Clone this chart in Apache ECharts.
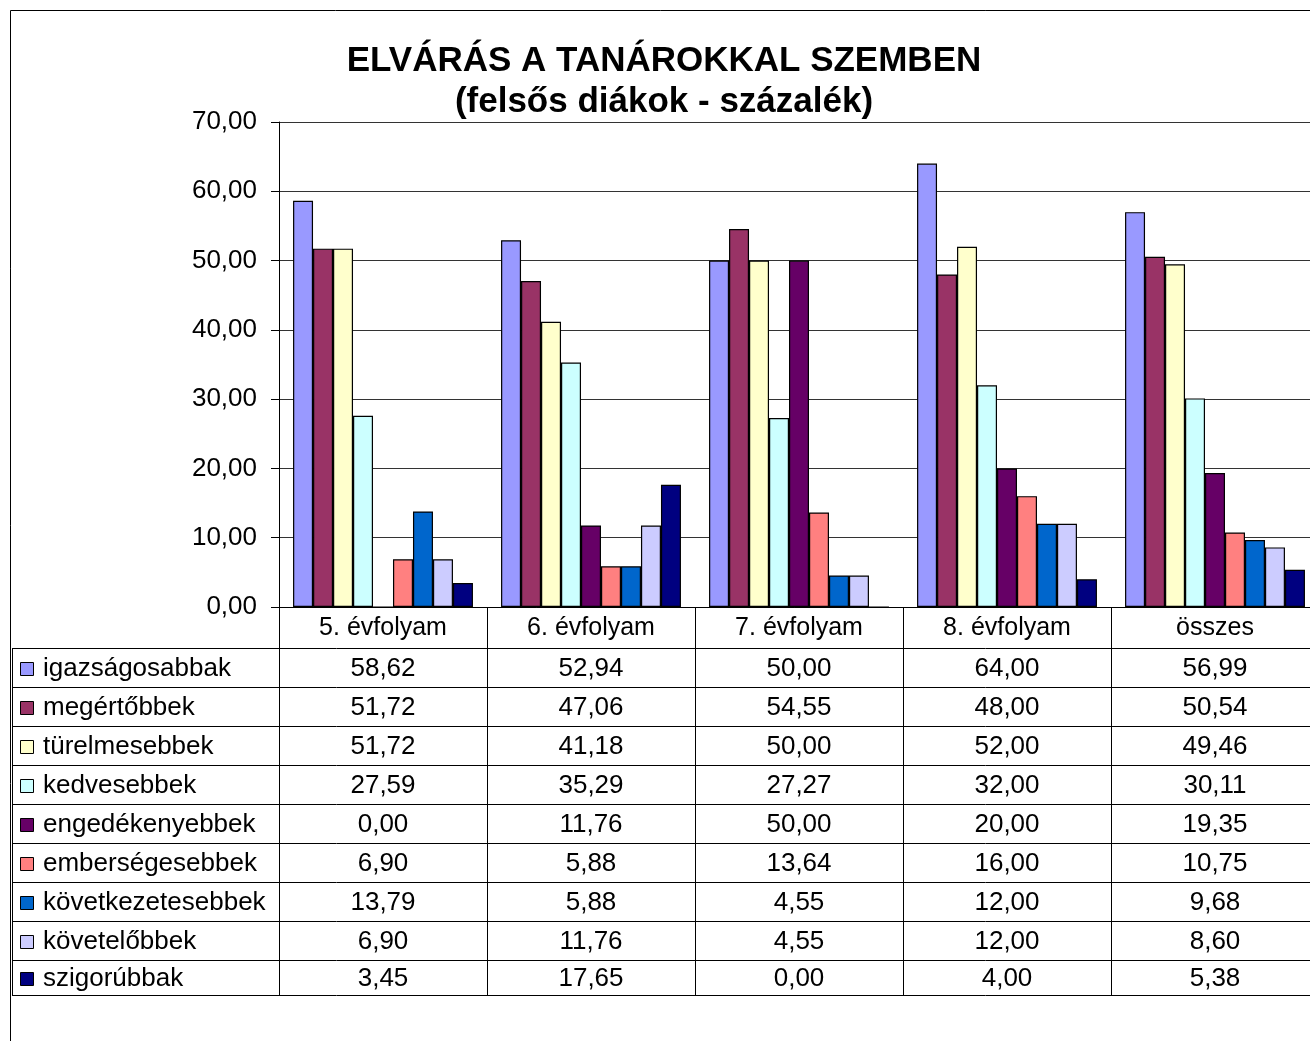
<!DOCTYPE html>
<html>
<head>
<meta charset="utf-8">
<title>Elvárás a tanárokkal szemben</title>
<script src="https://cdn.jsdelivr.net/npm/echarts@6/dist/echarts.min.js"></script>
<style>
  html, body { margin: 0; padding: 0; background: #fff; }
  #chart { width: 1310px; height: 1041px; }
</style>
</head>
<body>
<div id="chart"></div>
<script>
// kategóriák (évfolyamok)
var categories = ['5. évfolyam', '6. évfolyam', '7. évfolyam', '8. évfolyam', 'összes'];
var yTicks = [0, 10, 20, 30, 40, 50, 60, 70];

// sorozatok
var seriesNames = ['igazságosabbak', 'megértőbbek', 'türelmesebbek', 'kedvesebbek',
  'engedékenyebbek', 'emberségesebbek', 'következetesebbek', 'követelőbbek', 'szigorúbbak'];
var igazsagosabbak = [58.62, 52.94, 50.00, 64.00, 56.99];
var megertobbek = [51.72, 47.06, 54.55, 48.00, 50.54];
var turelmesebbek = [51.72, 41.18, 50.00, 52.00, 49.46];
var kedvesebbek = [27.59, 35.29, 27.27, 32.00, 30.11];
var engedekenyebbek = [0.00, 11.76, 50.00, 20.00, 19.35];
var embersegesebbek = [6.90, 5.88, 13.64, 16.00, 10.75];
var kovetkezetesebbek = [13.79, 5.88, 4.55, 12.00, 9.68];
var kovetelobbek = [6.90, 11.76, 4.55, 12.00, 8.60];
var szigorubbak = [3.45, 17.65, 0.00, 4.00, 5.38];

var seriesData = [igazsagosabbak, megertobbek, turelmesebbek, kedvesebbek,
  engedekenyebbek, embersegesebbek, kovetkezetesebbek, kovetelobbek, szigorubbak];
var colors = ['#9999FF', '#993366', '#FFFFCC', '#CCFFFF', '#660066',
  '#FF8080', '#0066CC', '#CCCCFF', '#000080'];

var FONT = "'Liberation Sans', Arial, sans-serif";
var fmt = function (v) { return v.toFixed(2).replace('.', ','); };

// táblázat geometriája
var tableTop = 648;
var tableBottom = 995;
var tableLeft = 12;
var rowH = 39;

var chart = echarts.init(document.getElementById('chart'));

chart.setOption({
  animation: false,
  backgroundColor: '#fff',
  color: colors,
  title: {
    text: 'ELVÁRÁS A TANÁROKKAL SZEMBEN\n(felsős diákok - százalék)',
    left: 664,
    top: 41,
    padding: 0,
    textAlign: 'center',
    textStyle: {
      fontFamily: FONT,
      fontSize: 35,
      fontWeight: 'bold',
      lineHeight: 41,
      color: '#000'
    }
  },
  grid: {
    left: 279,
    width: 1040,
    top: 122,
    bottom: 434,
    containLabel: false,
    outerBoundsMode: 'none'
  },
  xAxis: {
    type: 'category',
    data: categories,
    axisLine: { lineStyle: { color: '#000', width: 1 } },
    axisTick: {
      show: true,
      interval: 0,
      length: tableBottom - 607,
      lineStyle: { color: '#000', width: 1 }
    },
    axisLabel: {
      interval: 0,
      margin: 9,
      fontFamily: FONT,
      fontSize: 25,
      color: '#000'
    }
  },
  yAxis: {
    type: 'value',
    min: yTicks[0],
    max: yTicks[yTicks.length - 1],
    interval: 10,
    axisLine: { show: true, lineStyle: { color: '#000', width: 1 } },
    axisTick: { show: true, length: 8, lineStyle: { color: '#000' } },
    axisLabel: {
      margin: 22,
      fontFamily: FONT,
      fontSize: 26,
      color: '#000',
      formatter: function (v) { return fmt(v); }
    },
    splitLine: { show: true, lineStyle: { color: '#333', width: 1 } }
  },
  series: seriesNames.map(function (name, i) {
    return {
      name: name,
      type: 'bar',
      data: seriesData[i],
      barGap: '0%',
      barCategoryGap: '13.5%',
      itemStyle: { color: colors[i], borderColor: '#000', borderWidth: 1.2 }
    };
  })
});

// adattáblázat a tengely alatt
function buildTable() {
  var els = [];
  var line = function (x1, y1, x2, y2) {
    els.push({ type: 'line', silent: true, shape: { x1: x1, y1: y1, x2: x2, y2: y2 }, style: { stroke: '#000', lineWidth: 1 } });
  };
  // külső keret
  line(10.5, 10.5, 1310, 10.5);
  line(10.5, 10.5, 10.5, 1041);
  // bal oldali függőleges vonal
  line(tableLeft + 0.5, tableTop, tableLeft + 0.5, tableBottom);
  // vízszintes vonalak
  var rowLines = [];
  for (var r = 0; r < seriesNames.length; r++) rowLines.push(tableTop + r * rowH);
  rowLines.push(tableBottom);
  rowLines.forEach(function (y) { line(tableLeft, y + 0.5, 1310, y + 0.5); });

  seriesNames.forEach(function (name, i) {
    var cy = (rowLines[i] + rowLines[i + 1]) / 2 + 1.5;
    els.push({
      type: 'rect', silent: true,
      shape: { x: 20.5, y: Math.round(cy - 7) + 0.5, width: 13, height: 13 },
      style: { fill: colors[i], stroke: '#000', lineWidth: 1 }
    });
    els.push({
      type: 'text', silent: true,
      style: { x: 43, y: cy, text: name, font: '26px ' + FONT, fill: '#000', textAlign: 'left', textVerticalAlign: 'middle' }
    });
    seriesData[i].forEach(function (v, j) {
      var cx = chart.convertToPixel({ xAxisIndex: 0 }, categories[j]);
      els.push({
        type: 'text', silent: true,
        style: { x: cx, y: cy, text: fmt(v), font: '26px ' + FONT, fill: '#000', textAlign: 'center', textVerticalAlign: 'middle' }
      });
    });
  });
  chart.setOption({ graphic: { elements: els } });
}
buildTable();
</script>
</body>
</html>
